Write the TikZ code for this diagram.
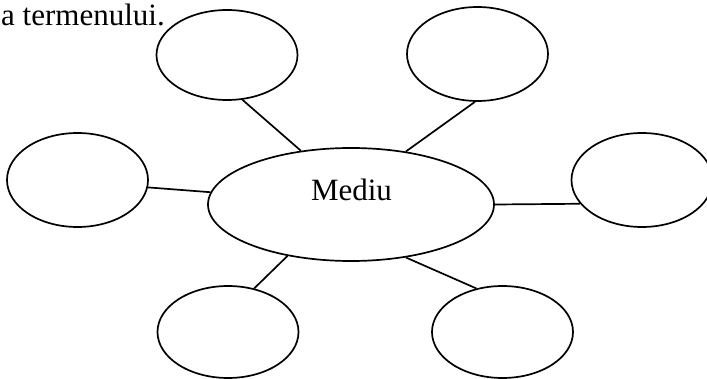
\documentclass[tikz,border=0pt]{standalone}
\usepackage{fontspec}
\setmainfont{Liberation Serif}
\usetikzlibrary{shapes.geometric}
\begin{document}
\begin{tikzpicture}[x=1pt,y=-1pt,
  bubble/.style={ellipse, draw, line width=1.7pt, inner sep=0pt, minimum width=141pt, minimum height=93pt},
  link/.style={line width=1.7pt},
  lbl/.style={font=\fontsize{31}{37}\selectfont, inner sep=0pt}]
\useasboundingbox (0,0) rectangle (707,379);
\node[lbl, anchor=base west] (title) at (1,26) {a termenului.};
\node[bubble, minimum width=286pt, minimum height=113pt] (c) at (351,204.5) {};
\node[lbl, anchor=base] (ct) at (351.5,201) {Mediu};
\node[bubble, minimum height=90pt] (tl) at (227,55) {};
\node[bubble, minimum height=94pt] (tr) at (477.5,54) {};
\node[bubble, minimum height=94pt] (l) at (77.5,180) {};
\node[bubble, minimum height=94pt] (r) at (642,180) {};
\node[bubble, minimum height=92pt] (bl) at (228,332) {};
\node[bubble, minimum height=92pt] (br) at (502.5,332) {};
\draw[link] (tl.-71.6) -- (c.133.7);
\draw[link] (tr.-93) -- (c.44.7);
\draw[link] (l.-6.5) -- (c.175);
\draw[link] (c.0) -- (r.201.8);
\draw[link] (c.219.4) -- (bl.59);
\draw[link] (c.-44.7) -- (br.121.4);
\end{tikzpicture}
\end{document}
